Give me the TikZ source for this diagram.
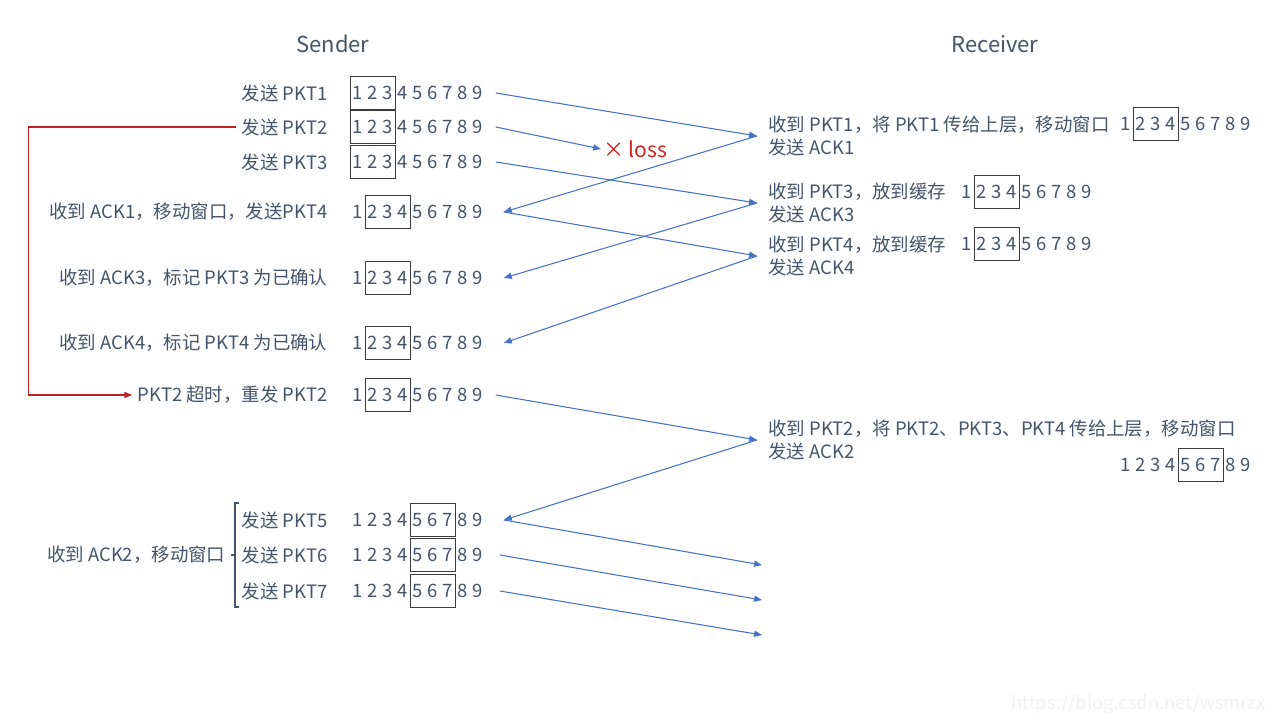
\documentclass[tikz,border=0pt]{standalone}
\usepackage{fontspec}
\setmainfont{Noto Sans CJK SC}
\usetikzlibrary{arrows.meta,fit,calc}
\definecolor{txtgray}{RGB}{68,84,106}
\definecolor{msgblue}{RGB}{68,114,196}
\definecolor{lossred}{RGB}{215,35,35}
\definecolor{boxgray}{RGB}{60,60,60}
\tikzset{
  lbl/.style={text=txtgray, font=\fontsize{10.5}{13.6}\selectfont, inner xsep=3pt, inner ysep=1pt},
  rlbl/.style={lbl, align=left, anchor=west, inner xsep=6.3pt},
  digit/.style={text=txtgray, font=\fontsize{10.5}{12}\selectfont, inner sep=0pt, minimum width=8.5pt, minimum height=18pt},
  winbox/.style={draw=boxgray, line width=0.6pt, inner sep=0pt},
  msg/.style={draw=msgblue, line width=0.6pt, -{Triangle[length=4.5pt,width=3.5pt]}},
  timeout/.style={draw=lossred!90!black, line width=0.6pt, -{Triangle[length=4.5pt,width=3.5pt]}},
}
% one row of 1..9 with the window box round digits #4..#5
\newcommand\seqrow[5]{%
  \foreach \i in {1,...,9}
    \node[digit] (#1-\i) at ({#2+15*(\i-1)},#3) {\i};
  \node[winbox, fit=(#1-#4)(#1-#5)] (#1-win) {};
}
\begin{document}
\begin{tikzpicture}[x=0.02cm, y=-0.02cm]
\fill[white] (0,0) rectangle (1280,720);
\useasboundingbox (0,0) rectangle (1280,720);

\node[text=txtgray, font=\fontsize{12.5}{15}\selectfont] (sender) at (333,44) {Sender};
\node[text=txtgray, font=\fontsize{12.5}{15}\selectfont] (receiver) at (995,44) {Receiver};

% sender side
\node[lbl, anchor=east] (s1) at (333,93) {发送 PKT1};
\node[lbl, anchor=east] (s2) at (333,127) {发送 PKT2};
\node[lbl, anchor=east] (s3) at (333,162) {发送 PKT3};
\node[lbl, anchor=east] (s4) at (333,212) {收到 ACK1，移动窗口，发送PKT4};
\node[lbl, anchor=east] (s5) at (333,278) {收到 ACK3，标记 PKT3 为已确认};
\node[lbl, anchor=east] (s6) at (333,343) {收到 ACK4，标记 PKT4 为已确认};
\node[lbl, anchor=east] (s7) at (333,395) {PKT2 超时，重发 PKT2};
\node[lbl, anchor=east] (s8) at (333,520) {发送 PKT5};
\node[lbl, anchor=east] (s9) at (333,555) {发送 PKT6};
\node[lbl, anchor=east] (s10) at (333,591) {发送 PKT7};
\node[lbl, anchor=east] (g2) at (231,555) {收到 ACK2，移动窗口};
\draw[txtgray, line width=0.6pt] (239,503) -- (235,503) -- (235,607) -- (239,607) (235,555) -- (231,555);

\seqrow{p1}{358}{93}{1}{3}
\seqrow{p2}{358}{127}{1}{3}
\seqrow{p3}{358}{162}{1}{3}
\seqrow{p4}{358}{212}{2}{4}
\seqrow{p5}{358}{278}{2}{4}
\seqrow{p6}{358}{343}{2}{4}
\seqrow{p7}{358}{395}{2}{4}
\seqrow{p8}{358}{520}{5}{7}
\seqrow{p9}{358}{555}{5}{7}
\seqrow{p10}{358}{591}{5}{7}

% receiver side
\node[rlbl] (r1) at (757,136) {收到 PKT1，将 PKT1 传给上层，移动窗口\\发送 ACK1};
\node[rlbl] (r2) at (757,203) {收到 PKT3，放到缓存\\发送 ACK3};
\node[rlbl] (r3) at (757,256) {收到 PKT4，放到缓存\\发送 ACK4};
\node[rlbl] (r4) at (757,440) {收到 PKT2，将 PKT2、PKT3、PKT4 传给上层，移动窗口\\发送 ACK2};
\seqrow{q1}{1126}{124}{2}{4}
\seqrow{q2}{967}{192}{2}{4}
\seqrow{q3}{967}{244}{2}{4}
\seqrow{q4}{1126}{465}{5}{7}

\node[text=lossred, font=\fontsize{12}{14}\selectfont, anchor=west, inner sep=1pt] (loss) at (601,149) {× loss};
\coordinate (e5) at (762,565);
\coordinate (e6) at (762,600);
\coordinate (e7) at (762,635);

\draw[msg] ($(p1-9.east)+(10,0)$) -- (r1.west);
\draw[msg] ($(p2-9.east)+(10,0)$) -- (loss.west);
\draw[msg] ($(p3-9.east)+(10,0)$) -- (r2.west);
\draw[msg] (r1.west) -- ($(p4-9.east)+(18,0)$);
\draw[msg] ($(p4-9.east)+(18,0)$) -- (r3.west);
\draw[msg] (r2.west) -- ($(p5-9.east)+(18,0)$);
\draw[msg] (r3.west) -- ($(p6-9.east)+(18,0)$);
\draw[msg] ($(p7-9.east)+(10,0)$) -- (r4.west);
\draw[msg] (r4.west) -- ($(p8-9.east)+(18,0)$);
\draw[msg] ($(p8-9.east)+(18,0)$) -- (e5);
\draw[msg] ($(p9-9.east)+(14,0)$) -- (e6);
\draw[msg] ($(p10-9.east)+(14,0)$) -- (e7);

\draw[timeout] (s2.west) -- ++(-208,0) |- (s7.west);

\node[text=black!5, font=\fontsize{10.5}{12}\selectfont, anchor=east] (mark) at (1272,704) {https://blog.csdn.net/wsmrzx};
\end{tikzpicture}
\end{document}
